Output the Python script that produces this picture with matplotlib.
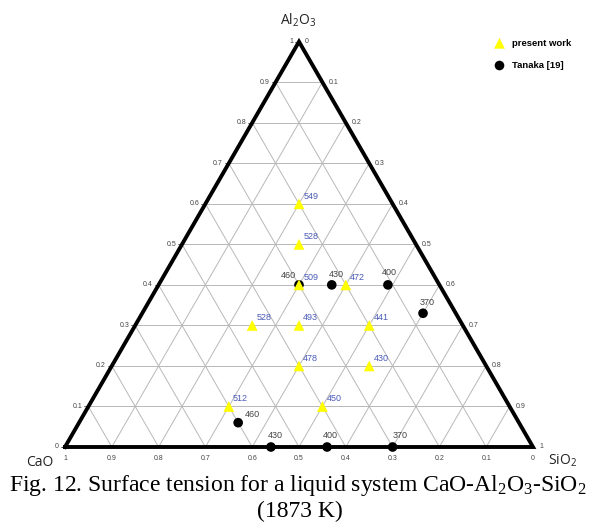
import numpy as np
import matplotlib
matplotlib.use('Agg')
import matplotlib.pyplot as plt

plt.rcParams['mathtext.default'] = 'regular'
plt.rcParams['font.family'] = ['Liberation Sans', 'DejaVu Sans']

# present work (mole fractions) and surface tension, mN/m
work_cao = [0.20, 0.25, 0.30, 0.20, 0.45, 0.35, 0.20, 0.40, 0.25, 0.60, 0.40]
work_al2o3 = [0.60, 0.50, 0.40, 0.40, 0.30, 0.30, 0.30, 0.20, 0.20, 0.10, 0.10]
work_sio2 = [0.20, 0.25, 0.30, 0.40, 0.25, 0.35, 0.50, 0.40, 0.55, 0.30, 0.50]
work_sigma = [549, 528, 509, 472, 528, 493, 441, 478, 430, 512, 450]

# Tanaka [19]
tanaka_cao = [0.30, 0.23, 0.11, 0.07, 0.60, 0.56, 0.44, 0.30]
tanaka_al2o3 = [0.40, 0.40, 0.40, 0.33, 0.06, 0.00, 0.00, 0.00]
tanaka_sio2 = [0.30, 0.37, 0.49, 0.60, 0.34, 0.44, 0.56, 0.70]
tanaka_sigma = [460, 430, 400, 370, 460, 430, 400, 370]
# label offsets for Tanaka values (points)
tanaka_off = [(-8, 6.5), (3, 7.5), (1, 9), (3, 7.5), (10.5, 6), (3, 8), (2, 8), (5.5, 8)]

ticks = np.round(np.arange(0, 1.01, 0.1), 1)
H = np.sqrt(3) / 2


def to_xy(s, a):
    s = np.asarray(s, float)
    a = np.asarray(a, float)
    return s + a / 2, a * H


W, Hpx = 594, 522
px = 468.0  # pixels per unit side
fig = plt.figure(figsize=(W / 100, Hpx / 100), dpi=100)
ax = fig.add_axes([0, 0, 1, 1])
ax.set_xlim(-65 / px, (W - 65) / px)
ax.set_ylim(-75 / px, (Hpx - 75) / px)
ax.axis('off')

# grid
gc = '#b8b8b8'
for t in ticks[1:-1]:
    ax.plot([t / 2, 1 - t / 2], [t * H, t * H], color=gc, lw=0.7, zorder=1)
    x, y = to_xy([t, t], [0, 1 - t])
    ax.plot(x, y, color=gc, lw=0.7, zorder=1)
    x, y = to_xy([1 - t, 0], [0, 1 - t])
    ax.plot(x, y, color=gc, lw=0.7, zorder=1)

# triangle frame
x, y = to_xy([0, 1, 0, 0], [0, 0, 1, 0])
ax.plot(x, y, color='black', lw=2.8, solid_joinstyle='miter', zorder=3)

# tick labels
tk = dict(fontsize=5, color='#444444')
for t in ticks:
    lab = f'{t:g}'
    # Al2O3 on the left edge
    x, y = to_xy(0, t)
    ax.plot([x - 4 / px, x], [y, y], color='#666666', lw=0.6, zorder=2)
    ax.text(x - 6 / px, y, lab, ha='right', va='center', **tk)
    # SiO2 on the right edge
    x, y = to_xy(t, 1 - t)
    ax.text(x + 6 / px, y, lab, ha='left', va='center', **tk)
    # CaO on the bottom edge
    x, y = to_xy(1 - t, 0)
    ax.text(x, y - 11 / px, lab, ha='center', va='center', **tk)

# data
x, y = to_xy(work_sio2, work_al2o3)
hw = ax.scatter(x, y, marker='^', s=60, color='#ffff00', edgecolors='none',
                zorder=5, label='present work')
for xi, yi, v in zip(x, y, work_sigma):
    ax.annotate(str(v), (xi, yi), xytext=(3, 5.5), textcoords='offset points',
                ha='left', va='center', fontsize=6.5, color='#4a5ab8', zorder=6)

x, y = to_xy(tanaka_sio2, tanaka_al2o3)
ht = ax.scatter(x, y, marker='o', s=48, color='black', edgecolors='none',
                zorder=4, label='Tanaka [19]')
for xi, yi, v, off in zip(x, y, tanaka_sigma, tanaka_off):
    ax.annotate(str(v), (xi, yi), xytext=off, textcoords='offset points',
                ha='center', va='center', fontsize=6.5, color='#444444', zorder=6)

leg = ax.legend(handles=[hw, ht], loc='upper left',
                bbox_to_anchor=(491 / W, 1 - 35 / Hpx), frameon=False,
                prop={'size': 6.8, 'weight': 'bold'}, labelspacing=1.4,
                handletextpad=0.8, handlelength=1.0, borderaxespad=0)

# vertex labels
lf = dict(fontsize=10, family=['Open Sans', 'DejaVu Sans'], color='#222222',
          ha='center', va='center')
fig.text(298 / W, 1 - 20 / Hpx, 'Al$_2$O$_3$', **lf)
fig.text(40 / W, 1 - 462 / Hpx, 'CaO', **lf)
fig.text(563 / W, 1 - 461 / Hpx, 'SiO$_2$', **lf)

# caption
cf = dict(fontsize=17, family=['Liberation Serif', 'DejaVu Serif'],
          ha='center', va='center')
fig.text(298 / W, 1 - 486 / Hpx,
         'Fig. 12. Surface tension for a liquid system CaO-Al$_2$O$_3$-SiO$_2$', **cf)
fig.text(300 / W, 1 - 511 / Hpx, '(1873 K)', **cf)

fig.savefig('out.png', dpi=100)
